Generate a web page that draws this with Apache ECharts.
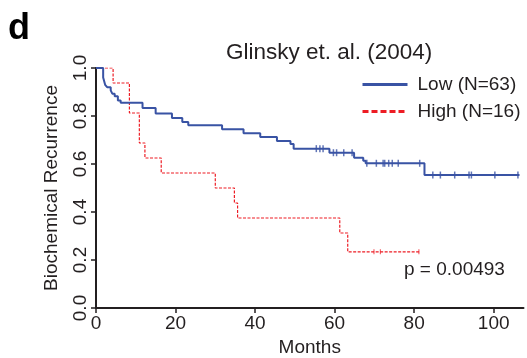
<!DOCTYPE html>
<html>
<head>
<meta charset="utf-8">
<script src="https://cdn.jsdelivr.net/npm/echarts@6/dist/echarts.min.js"></script>
<style>
  html, body { margin: 0; padding: 0; background: #fff; }
  #chart { width: 527px; height: 358px; }
</style>
</head>
<body>
<div id="chart"></div>
<script>
// Kaplan-Meier steps: time (months) where the curve drops, and value after the drop
const lowTimes = [0, 1.8, 2.3, 2.8, 3.7, 4.1, 4.7, 5.5, 6.2, 11.7, 15.0, 19.1, 21.7, 23.2, 31.7, 37.1, 41.3, 45.5, 48.9, 49.7, 58.7, 64.9, 67.2, 67.8, 82.6, 106.5]
const lowSurv = [1.0, 0.96, 0.93, 0.92, 0.907, 0.893, 0.882, 0.865, 0.855, 0.833, 0.81, 0.792, 0.775, 0.761, 0.745, 0.728, 0.712, 0.696, 0.683, 0.664, 0.647, 0.626, 0.614, 0.603, 0.554, 0.554]
const lowCensor = [55.4, 56.3, 57.1, 59.7, 60.5, 62.3, 64.4, 68.1, 70.5, 72.2, 72.6, 73.6, 74.5, 76.0, 81.4, 84.7, 86.6, 90.2, 93.8, 94.4, 100.3, 106.1]

const highTimes = [0, 4.3, 8.4, 10.9, 12.3, 16.4, 30.0, 34.8, 35.6, 61.3, 63.3, 81.5]
const highSurv = [1.0, 0.9375, 0.8125, 0.6875, 0.625, 0.5625, 0.5, 0.4375, 0.375, 0.3125, 0.234, 0.234]
const highCensor = [69.9, 71.5, 81.2]

const xTicks = [0, 20, 40, 60, 80, 100]
const xMax = 107.5

const lowColor = '#3953a4'
const highColor = '#ed1c24'
const axisColor = '#231f20'
const font = 'Liberation Sans, Arial, sans-serif'

// value of a step curve at time t
const survAt = (times, surv, t) => {
  let v = surv[0]
  for (let i = 0; i < times.length; i++) {
    if (times[i] <= t) v = surv[i]
  }
  return v
}

const toPairs = (xs, ys) => xs.map((x, i) => [x, ys[i]])
const censorPairs = (cs, times, surv) => cs.map(t => [t, survAt(times, surv, t)])

const chart = echarts.init(document.getElementById('chart'), null, { renderer: 'canvas' })

const option = {
  animation: false,
  backgroundColor: '#fff',
  textStyle: { fontFamily: font },
  title: {
    text: 'Glinsky et. al. (2004)',
    left: 226,
    top: 41,
    padding: 0,
    textStyle: { fontFamily: font, fontSize: 22.5, fontWeight: 'normal', color: axisColor },
  },
  legend: {
    orient: 'vertical',
    left: 361,
    top: 75,
    padding: 0,
    itemGap: 8,
    itemWidth: 45,
    itemHeight: 14,
    itemStyle: { opacity: 0 },
    textStyle: { fontFamily: font, fontSize: 19, color: axisColor, padding: [0, 0, 0, 5] },
    data: [
      { name: 'Low (N=63)', lineStyle: { width: 3, type: 'solid' } },
      { name: 'High (N=16)', lineStyle: { width: 3, type: [6, 3] } },
    ],
  },
  grid: {
    left: 96,
    right: 3.5,
    top: 68,
    bottom: 50,
    outerBoundsMode: 'none',
  },
  xAxis: {
    type: 'value',
    min: 0,
    max: xMax,
    interval: 20,
    name: 'Months',
    nameLocation: 'middle',
    nameGap: 29,
    nameTextStyle: { fontFamily: font, fontSize: 19, color: axisColor },
    axisLine: { lineStyle: { color: axisColor, width: 2 } },
    axisTick: { length: 5, lineStyle: { color: axisColor, width: 1.5 }, customValues: xTicks },
    axisLabel: { fontFamily: font, fontSize: 19, color: axisColor, margin: 6, customValues: xTicks },
    splitLine: { show: false },
  },
  yAxis: {
    type: 'value',
    min: 0,
    max: 1,
    interval: 0.2,
    name: 'Biochemical Recurrence',
    nameLocation: 'middle',
    nameRotate: 90,
    nameGap: 35,
    nameTextStyle: { fontFamily: font, fontSize: 19, color: axisColor },
    axisLine: { show: true, lineStyle: { color: axisColor, width: 2 } },
    axisTick: { show: true, length: 5, lineStyle: { color: axisColor, width: 1.5 } },
    axisLabel: {
      fontFamily: font,
      fontSize: 19,
      color: axisColor,
      rotate: 90,
      margin: 6,
      formatter: v => v.toFixed(1),
    },
    splitLine: { show: false },
  },
  graphic: [
    {
      type: 'text',
      left: 8,
      top: 11,
      style: { text: 'd', fontFamily: font, fontSize: 36, fontWeight: 'bold', fill: '#000' },
    },
    {
      type: 'text',
      left: 404,
      top: 260,
      style: { text: 'p = 0.00493', fontFamily: font, fontSize: 19, fill: axisColor },
    },
  ],
  series: [
    {
      name: 'Low (N=63)',
      type: 'line',
      step: 'end',
      symbol: 'none',
      color: lowColor,
      lineStyle: { color: lowColor, width: 2 },
      data: toPairs(lowTimes, lowSurv),
      z: 3,
    },
    {
      name: 'High (N=16)',
      type: 'line',
      step: 'end',
      symbol: 'none',
      color: highColor,
      lineStyle: { color: highColor, width: 1.2, type: [3, 1.5] },
      data: toPairs(highTimes, highSurv),
      z: 2,
    },
    {
      name: 'Low censored',
      type: 'scatter',
      symbol: 'rect',
      symbolSize: [1.5, 7],
      itemStyle: { color: lowColor },
      data: censorPairs(lowCensor, lowTimes, lowSurv),
      z: 4,
    },
    {
      name: 'High censored',
      type: 'scatter',
      symbol: 'rect',
      symbolSize: [1, 5],
      itemStyle: { color: highColor },
      data: censorPairs(highCensor, highTimes, highSurv),
      z: 4,
    },
  ],
}

chart.setOption(option)
</script>
</body>
</html>
